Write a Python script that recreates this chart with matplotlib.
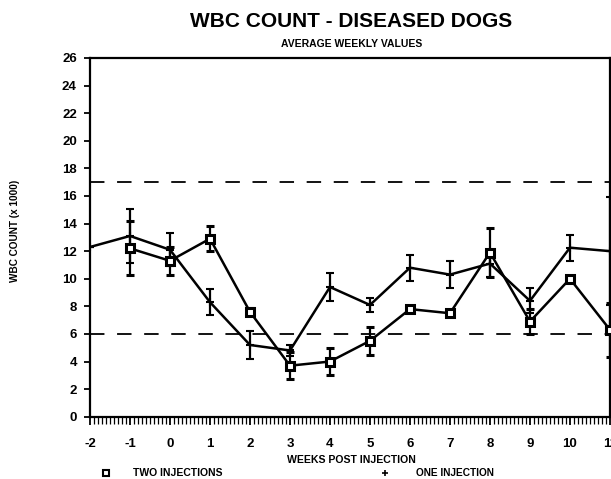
import matplotlib
matplotlib.use("Agg")
import matplotlib.pyplot as plt
from matplotlib.ticker import MultipleLocator
from matplotlib.lines import Line2D

plt.rcParams['font.family'] = ['Liberation Sans', 'DejaVu Sans']

# Data (weeks post injection)
weeks_two = [-1, 0, 1, 2, 3, 4, 5, 6, 7, 8, 9, 10, 11]
wbc_two = [12.2, 11.3, 12.9, 7.6, 3.7, 4.0, 5.5, 7.8, 7.5, 11.9, 6.9, 10.0, 6.3]
err_two = [1.95, 1.0, 0.9, 0.25, 1.0, 0.95, 1.0, 0.15, 0.15, 1.8, 0.9, 0.2, 1.95]

weeks_one = [-2, -1, 0, 1, 2, 3, 4, 5, 6, 7, 8, 9, 10, 11]
wbc_one = [12.3, 13.1, 12.1, 8.3, 5.2, 4.8, 9.4, 8.1, 10.8, 10.3, 11.1, 8.4, 12.25, 12.0]
err_one = [0.0, 1.95, 1.2, 0.95, 1.0, 0.4, 1.0, 0.5, 0.95, 0.95, 1.0, 0.9, 0.95, 3.9]

normal_range = [6, 17]
x_ticks = list(range(-2, 12))
y_ticks = list(range(0, 27, 2))

fig = plt.figure(figsize=(6.11, 4.79), dpi=100)
ax = fig.add_axes([0.1473, 0.130, 0.851, 0.749])

for yv in normal_range:
    ax.axhline(yv, color='black', lw=1.3, dashes=(8, 7), zorder=1)

ax.errorbar(weeks_one, wbc_one, yerr=err_one, color='black', lw=1.8,
            elinewidth=1.6, capsize=3, capthick=1.4, marker='+', ms=6, mew=1.5,
            zorder=3)
ax.errorbar(weeks_two, wbc_two, yerr=err_two, color='black', lw=1.8,
            elinewidth=1.6, capsize=3, capthick=1.4, marker='s', ms=6, mew=2.2,
            mfc='white', mec='black', zorder=4)

ax.set_xlim(-2, 11)
ax.set_ylim(0, 26)
ax.set_xticks(x_ticks)
ax.set_xticklabels([str(t) for t in x_ticks], fontweight='bold', fontsize=9.5)
ax.set_yticks(y_ticks)
ax.set_yticklabels([str(t) for t in y_ticks], fontweight='bold', fontsize=9.5)
ax.xaxis.set_minor_locator(MultipleLocator(0.1))
ax.tick_params(axis='x', which='major', direction='out', length=6, width=1.3, pad=9)
ax.tick_params(axis='x', which='minor', direction='out', length=5, width=0.9)
ax.tick_params(axis='y', which='major', direction='out', length=4, width=1.3, pad=5.5)
for s in ax.spines.values():
    s.set_linewidth(1.6)

fig.text(0.575, 0.955, 'WBC COUNT - DISEASED DOGS', ha='center', va='center',
         fontsize=15, fontweight='bold')
fig.text(0.576, 0.909, 'AVERAGE WEEKLY VALUES', ha='center', va='center',
         fontsize=7.5, fontweight='bold')
fig.text(0.025, 0.518, 'WBC COUNT (x 1000)', ha='center', va='center',
         rotation=90, fontsize=7.2, fontweight='bold')
fig.text(0.576, 0.0397, 'WEEKS POST INJECTION', ha='center', va='center',
         fontsize=7.6, fontweight='bold')

# legend row
fig.lines.append(Line2D([0.173], [0.0125], marker='s', ms=5, mfc='white', mec='black',
                        mew=1.5, transform=fig.transFigure, ls='none'))
fig.text(0.218, 0.0125, 'TWO INJECTIONS', ha='left', va='center', fontsize=7.5, fontweight='bold')
fig.lines.append(Line2D([0.630], [0.0125], marker='+', ms=4, mec='black',
                        mew=1.2, transform=fig.transFigure, ls='none'))
fig.text(0.681, 0.0125, 'ONE INJECTION', ha='left', va='center', fontsize=7.3, fontweight='bold')

fig.savefig('out.png', dpi=100)
